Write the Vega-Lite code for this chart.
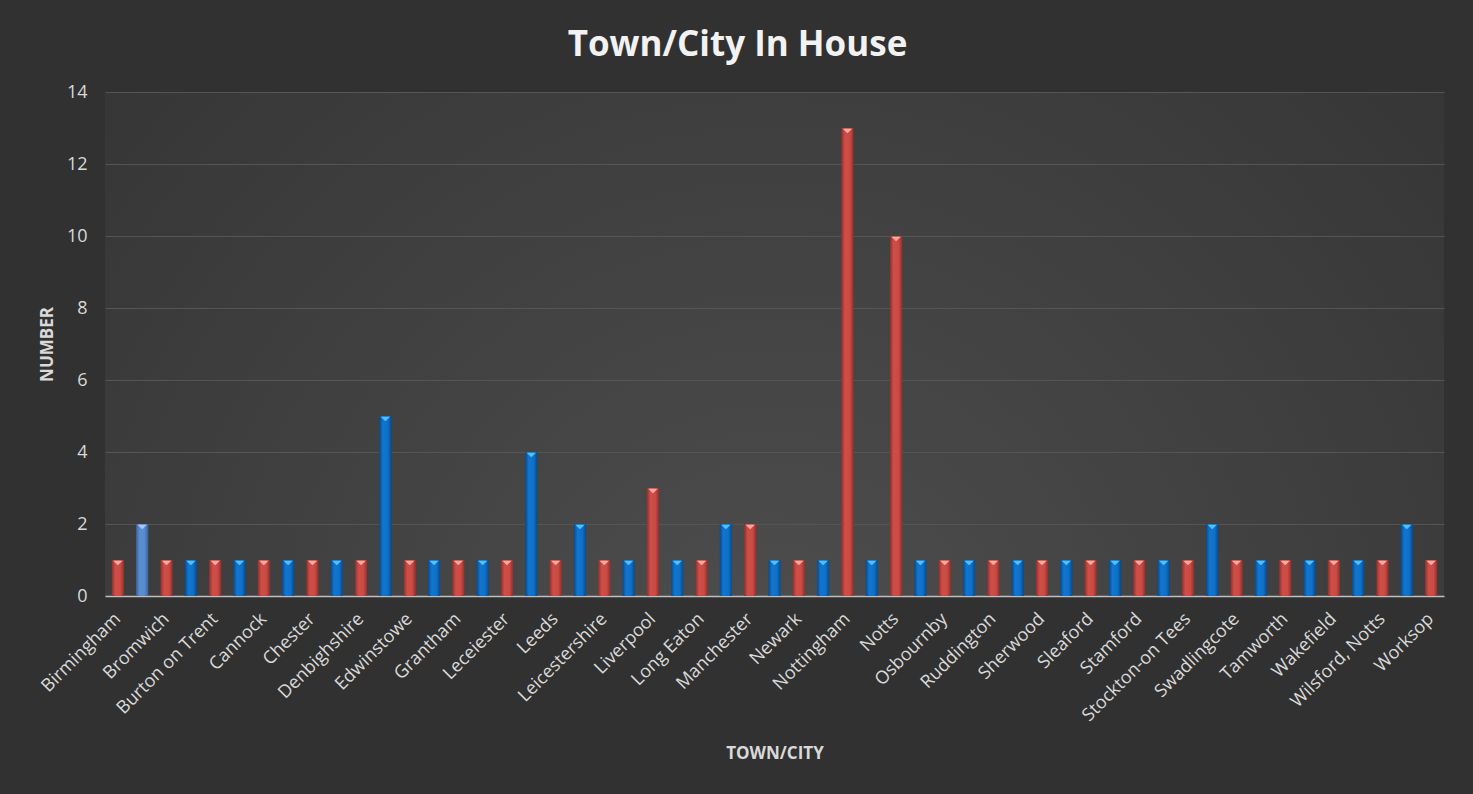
{
  "$schema": "https://vega.github.io/schema/vega-lite/v6.json",
  "autosize": "none",
  "width": 1339,
  "height": 504,
  "padding": {"left": 105, "top": 92, "right": 29, "bottom": 198},
  "background": "#313131",
  "title": {
    "text": "Town/City In House",
    "font": "Open Sans",
    "fontSize": 35,
    "fontWeight": "bold",
    "color": "#f2f2f2",
    "anchor": "middle",
    "frame": "group",
    "dx": -37,
    "offset": 20
  },
  "config": {
    "view": {
      "stroke": null,
      "fill": {
        "gradient": "radial",
        "x1": 0.5, "y1": 0.75, "r1": 0,
        "x2": 0.5, "y2": 0.75, "r2": 0.75,
        "stops": [
          {"offset": 0, "color": "#4e4e4e"},
          {"offset": 1, "color": "#333333"}
        ]
      }
    },
    "axis": {
      "labelFont": "Open Sans",
      "titleFont": "Open Sans",
      "labelColor": "#d9d9d9",
      "titleColor": "#d9d9d9",
      "labelFontSize": 18,
      "titleFontSize": 17,
      "titleFontWeight": "bold",
      "ticks": false
    }
  },
  "data": {
    "values": [
      {"idx": 0, "town": "Birmingham", "count": 1},
      {"idx": 1, "town": "Bolsover", "count": 2},
      {"idx": 2, "town": "Bromwich", "count": 1},
      {"idx": 3, "town": "Bulwell", "count": 1},
      {"idx": 4, "town": "Burton on Trent", "count": 1},
      {"idx": 5, "town": "Calverton", "count": 1},
      {"idx": 6, "town": "Cannock", "count": 1},
      {"idx": 7, "town": "Carlton", "count": 1},
      {"idx": 8, "town": "Chester", "count": 1},
      {"idx": 9, "town": "Chesterfield", "count": 1},
      {"idx": 10, "town": "Denbighshire", "count": 1},
      {"idx": 11, "town": "Derby", "count": 5},
      {"idx": 12, "town": "Edwinstowe", "count": 1},
      {"idx": 13, "town": "Gedling", "count": 1},
      {"idx": 14, "town": "Grantham", "count": 1},
      {"idx": 15, "town": "Hucknall", "count": 1},
      {"idx": 16, "town": "Leceiester", "count": 1},
      {"idx": 17, "town": "Lecester", "count": 4},
      {"idx": 18, "town": "Leeds", "count": 1},
      {"idx": 19, "town": "Leicester", "count": 2},
      {"idx": 20, "town": "Leicestershire", "count": 1},
      {"idx": 21, "town": "Lincoln", "count": 1},
      {"idx": 22, "town": "Liverpool", "count": 3},
      {"idx": 23, "town": "London", "count": 1},
      {"idx": 24, "town": "Long Eaton", "count": 1},
      {"idx": 25, "town": "Loughborough", "count": 2},
      {"idx": 26, "town": "Manchester", "count": 2},
      {"idx": 27, "town": "Mansfield", "count": 1},
      {"idx": 28, "town": "Newark", "count": 1},
      {"idx": 29, "town": "Northampton", "count": 1},
      {"idx": 30, "town": "Nottingham", "count": 13},
      {"idx": 31, "town": "Nottinghamshire", "count": 1},
      {"idx": 32, "town": "Notts", "count": 10},
      {"idx": 33, "town": "Nuneaton", "count": 1},
      {"idx": 34, "town": "Osbournby", "count": 1},
      {"idx": 35, "town": "Radcliffe on Trent", "count": 1},
      {"idx": 36, "town": "Ruddington", "count": 1},
      {"idx": 37, "town": "Sheffield", "count": 1},
      {"idx": 38, "town": "Sherwood", "count": 1},
      {"idx": 39, "town": "Skegness", "count": 1},
      {"idx": 40, "town": "Sleaford", "count": 1},
      {"idx": 41, "town": "Southwell", "count": 1},
      {"idx": 42, "town": "Stamford", "count": 1},
      {"idx": 43, "town": "Stapleford", "count": 1},
      {"idx": 44, "town": "Stockton-on Tees", "count": 1},
      {"idx": 45, "town": "Sutton in Ashfield", "count": 2},
      {"idx": 46, "town": "Swadlingcote", "count": 1},
      {"idx": 47, "town": "Swindon", "count": 1},
      {"idx": 48, "town": "Tamworth", "count": 1},
      {"idx": 49, "town": "Trowell", "count": 1},
      {"idx": 50, "town": "Wakefield", "count": 1},
      {"idx": 51, "town": "West Bridgford", "count": 1},
      {"idx": 52, "town": "Wilsford, Notts", "count": 1},
      {"idx": 53, "town": "Wollaton", "count": 2},
      {"idx": 54, "town": "Worksop", "count": 1}
    ]
  },
  "encoding": {
    "x": {
      "field": "town",
      "type": "nominal",
      "sort": {"field": "idx", "op": "min"},
      "scale": {"paddingInner": 0.5, "paddingOuter": 0.28},
      "axis": {
        "title": "TOWN/CITY",
        "titleY": 157,
        "titleBaseline": "middle",
        "labelAngle": -45,
        "labelAlign": "right",
        "labelBaseline": "middle",
        "labelPadding": 20,
        "domainColor": "#bfbfbf",
        "domainWidth": 1.5,
        "grid": false,
        "values": ["Birmingham", "Bromwich", "Burton on Trent", "Cannock", "Chester", "Denbighshire", "Edwinstowe", "Grantham", "Leceiester", "Leeds", "Leicestershire", "Liverpool", "Long Eaton", "Manchester", "Newark", "Nottingham", "Notts", "Osbournby", "Ruddington", "Sherwood", "Sleaford", "Stamford", "Stockton-on Tees", "Swadlingcote", "Tamworth", "Wakefield", "Wilsford, Notts", "Worksop"]
      }
    },
    "y": {
      "field": "count",
      "type": "quantitative",
      "scale": {"domain": [0, 14], "nice": false},
      "axis": {
        "title": "NUMBER",
        "titleX": -58,
        "titleY": 252,
        "titleBaseline": "middle",
        "titleAlign": "center",
        "titleAngle": -90,
        "values": [0, 2, 4, 6, 8, 10, 12, 14],
        "domain": false,
        "grid": true,
        "gridColor": "#555555",
        "gridWidth": 1.2,
        "labelPadding": 18
      }
    }
  },
  "layer": [
    {
      "transform": [{"filter": "datum.idx % 2 == 0"}],
      "mark": {
        "type": "bar",
        "fill": {
          "gradient": "linear", "x1": 0, "y1": 0, "x2": 1, "y2": 0,
          "stops": [
            {"offset": 0, "color": "#8f302c"},
            {"offset": 0.3, "color": "#cf4e47"},
            {"offset": 0.7, "color": "#cc4a44"},
            {"offset": 1, "color": "#8f302c"}
          ]
        }
      }
    },
    {
      "transform": [{"filter": "datum.idx % 2 == 1 && datum.idx != 1"}],
      "mark": {
        "type": "bar",
        "fill": {
          "gradient": "linear", "x1": 0, "y1": 0, "x2": 1, "y2": 0,
          "stops": [
            {"offset": 0, "color": "#084a8c"},
            {"offset": 0.3, "color": "#1176cf"},
            {"offset": 0.7, "color": "#0f70c8"},
            {"offset": 1, "color": "#084a8c"}
          ]
        }
      }
    },
    {
      "transform": [{"filter": "datum.idx == 1"}],
      "mark": {
        "type": "bar",
        "fill": {
          "gradient": "linear", "x1": 0, "y1": 0, "x2": 1, "y2": 0,
          "stops": [
            {"offset": 0, "color": "#3a639e"},
            {"offset": 0.3, "color": "#5b8fd2"},
            {"offset": 0.7, "color": "#5889cc"},
            {"offset": 1, "color": "#3a639e"}
          ]
        }
      }
    },
    {
      "transform": [{"filter": "datum.idx % 2 == 0"}],
      "mark": {
        "type": "point",
        "shape": "M-1,-0.5L1,-0.5L0,0.5Z",
        "filled": true,
        "opacity": 1,
        "size": 90,
        "color": "#f2aaa3",
        "yOffset": 3
      }
    },
    {
      "transform": [{"filter": "datum.idx % 2 == 1 && datum.idx != 1"}],
      "mark": {
        "type": "point",
        "shape": "M-1,-0.5L1,-0.5L0,0.5Z",
        "filled": true,
        "opacity": 1,
        "size": 90,
        "color": "#52c0f5",
        "yOffset": 3
      }
    },
    {
      "transform": [{"filter": "datum.idx == 1"}],
      "mark": {
        "type": "point",
        "shape": "M-1,-0.5L1,-0.5L0,0.5Z",
        "filled": true,
        "opacity": 1,
        "size": 90,
        "color": "#a9c8ef",
        "yOffset": 3
      }
    }
  ]
}
